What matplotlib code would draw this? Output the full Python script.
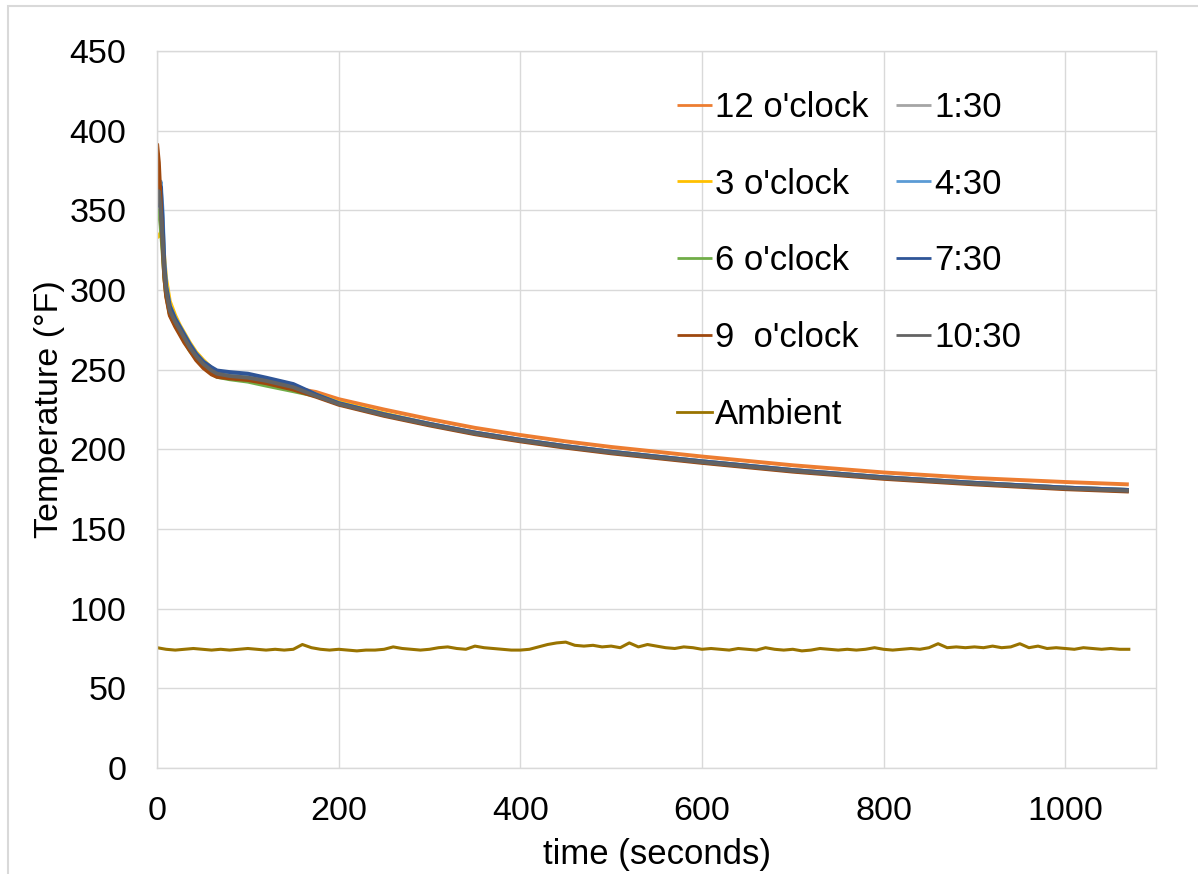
import numpy as np
import matplotlib.pyplot as plt
from matplotlib.patches import Rectangle

plt.rcParams['font.family'] = ['Liberation Sans', 'DejaVu Sans']

# Time points (seconds) for the thermocouple readings
t = [0, 2, 4, 6, 8, 10, 14, 20, 25, 30, 36, 43, 51, 60, 66, 80, 100, 120, 150,
     175, 200, 250, 300, 350, 400, 450, 500, 600, 700, 800, 900, 1000, 1070]

clock12 = [378, 370, 350, 328, 308, 297, 285, 278, 273, 268, 263, 257, 252, 248, 246.5, 245, 244, 242, 238.5,
           236, 231.5, 225, 219, 213.5, 209, 205, 201.5, 195.5, 190, 185.5, 182, 179.5, 178]
clock130 = [350, 352, 345, 330, 312, 300, 287, 280, 275, 270, 265, 259, 254, 250, 248, 246.5, 245, 243, 239,
            234, 229, 222, 216, 210.5, 206, 202, 198.5, 192.5, 187, 182.5, 179, 176, 174.5]
clock3 = [333, 334, 336, 335, 320, 307, 293, 284, 278, 273, 267, 261, 256, 251, 249, 247.5, 246, 244, 240,
          234.5, 229.5, 222.5, 216, 210.5, 206, 202, 198.5, 192.5, 187, 182.5, 179, 176, 174.5]
clock430 = [355, 362, 368, 350, 318, 303, 290, 282, 277, 272, 266, 260, 255, 251, 249, 248, 246.5, 244.5, 240.5,
            234, 229, 222, 216, 210.5, 206, 202, 198.5, 192.5, 187, 182.5, 179, 176, 174.5]
clock6 = [348, 350, 340, 325, 308, 297, 285, 278, 273, 268, 262, 257, 252, 247.5, 245.5, 244, 242.5, 240, 236.5,
          233.5, 228.5, 221.5, 215.5, 210, 205.5, 201.5, 198, 192, 186.5, 182, 178.5, 175.5, 174]
clock730 = [352, 358, 365, 345, 316, 302, 290, 282, 277, 272, 266, 260, 255, 251.5, 249.5, 248.5, 247.5, 245, 241,
            234.5, 229, 222, 216, 210.5, 206, 202, 198.5, 192.5, 187, 182.5, 179, 176, 174.5]
clock9 = [392, 380, 355, 330, 308, 296, 284, 277, 272, 267, 262, 256, 251, 247, 245.5, 244.5, 243.5, 241.5, 237.5,
          233, 228, 221, 215, 209.5, 205, 201, 197.5, 191.5, 186, 181.5, 178, 175, 173.5]
clock1030 = [358, 362, 350, 332, 312, 300, 287, 280, 275, 270, 264, 258.5, 253.5, 249.5, 247.5, 246, 245, 243, 239,
             233.5, 228.5, 221.5, 215.5, 210, 205.5, 201.5, 198, 192, 186.5, 182, 178.5, 175.5, 174]

# Ambient reading every 10 s
t_amb = np.arange(0, 1071, 10)
ambient = [75.5, 74.5, 74.0, 74.5, 75.0, 74.5, 74.0, 74.5, 74.0, 74.5,
           75.0, 74.5, 74.0, 74.5, 74.0, 74.5, 77.5, 75.5, 74.5, 74.0,
           74.5, 74.0, 73.5, 74.0, 74.0, 74.5, 76.0, 75.0, 74.5, 74.0,
           74.5, 75.5, 76.0, 75.0, 74.5, 76.5, 75.5, 75.0, 74.5, 74.0,
           74.0, 74.5, 76.0, 77.5, 78.5, 79.0, 77.0, 76.5, 77.0, 76.0,
           76.5, 75.5, 78.5, 76.0, 77.5, 76.5, 75.5, 75.0, 76.0, 75.5,
           74.5, 75.0, 74.5, 74.0, 75.0, 74.5, 74.0, 75.5, 74.5, 74.0,
           74.5, 73.5, 74.0, 75.0, 74.5, 74.0, 74.5, 74.0, 74.5, 75.5,
           74.5, 74.0, 74.5, 75.0, 74.5, 75.5, 78.0, 75.5, 76.0, 75.5,
           76.0, 75.5, 76.5, 75.5, 76.0, 78.0, 75.5, 76.5, 75.0, 75.5,
           75.0, 74.5, 75.5, 75.0, 74.5, 75.0, 74.5, 74.5]

labels = ["12 o'clock", "1:30", "3 o'clock", "4:30", "6 o'clock", "7:30",
          "9  o'clock", "10:30", "Ambient"]
colors = ['#ED7D31', '#A5A5A5', '#FFC000', '#5B9BD5', '#70AD47', '#2F5597',
          '#9E480E', '#636363', '#997300']
series = [clock12, clock130, clock3, clock430, clock6, clock730, clock9, clock1030]

fig = plt.figure(figsize=(11.98, 8.74), dpi=100)
ax = fig.add_axes([0.1311, 0.1213, 0.8339, 0.8203])

lines = []
for y, lab, c in zip(series, labels[:-1], colors[:-1]):
    ln, = ax.plot(t, y, color=c, lw=2.8, label=lab, solid_capstyle='butt')
    lines.append(ln)
ln, = ax.plot(t_amb, ambient, color=colors[-1], lw=2.2, label=labels[-1])
lines.append(ln)

ax.set_xlim(0, 1100)
ax.set_ylim(0, 450)
ax.set_xticks(np.arange(0, 1001, 200))
ax.set_yticks(np.arange(0, 451, 50))
ax.grid(True, color='#D9D9D9', lw=1)
ax.set_axisbelow(True)
for s in ax.spines.values():
    s.set_color('#D9D9D9')
    s.set_linewidth(1)
ax.tick_params(length=0, labelsize=24.5, colors='black')
ax.tick_params(axis='y', pad=22)
ax.tick_params(axis='x', pad=20)
ax.set_ylabel('Temperature (°F)', fontsize=24.5, labelpad=3)
ax.set_xlabel('time (seconds)', fontsize=25, labelpad=8)

# legend is filled row by row in the original, matplotlib fills columns
order = [0, 2, 4, 6, 8, 1, 3, 5, 7]
leg = fig.legend([lines[i] for i in order], [labels[i] for i in order],
                 ncol=2, loc='upper left', bbox_to_anchor=(0.565, 0.896),
                 frameon=False, fontsize=25, handlelength=1.0,
                 handletextpad=0.1, columnspacing=0.8, labelspacing=1.26,
                 borderpad=0, borderaxespad=0)
for h in leg.get_lines():
    h.set_linewidth(2)

# thin outer frame of the original picture
fig.patches.append(Rectangle((8 / 1198, -0.5), 2, 1.5 - 6 / 874, transform=fig.transFigure,
                             fill=False, edgecolor='#D9D9D9', lw=1.5))

fig.savefig('out.png', dpi=100)
